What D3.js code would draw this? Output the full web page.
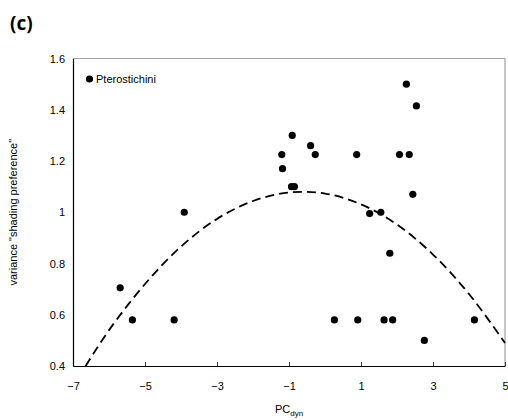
<!DOCTYPE html>
<html>
<head>
<meta charset="utf-8">
<script src="https://cdn.jsdelivr.net/npm/d3@7"></script>
<style>
  html, body { margin: 0; padding: 0; background: #fff; }
  svg { display: block; }
</style>
</head>
<body>
<script>
// Data
const pcDyn = [2.26, 2.54, -0.91, -0.40, -1.20, -0.27, 0.88, 2.07, 2.34, -1.18, -0.93, -0.85, 2.44,
               -3.91, -5.69, -5.35, -4.19, 1.24, 1.55, 1.80, 0.26, 0.91, 1.64, 1.88, 4.15, 2.76];
const variance = [1.50, 1.415, 1.30, 1.26, 1.225, 1.225, 1.225, 1.225, 1.225, 1.17, 1.10, 1.10, 1.07,
                  1.00, 0.705, 0.58, 0.58, 0.995, 1.00, 0.84, 0.58, 0.58, 0.58, 0.58, 0.58, 0.50];
// Fitted curve (dashed)
const curveX = [-6.65, -6, -5, -4, -3, -2, -1, 0, 1, 2, 3, 4, 5];
const curveY = [0.40, 0.54, 0.72, 0.866, 0.974, 1.044, 1.077, 1.073, 1.031, 0.952, 0.835, 0.681, 0.49];
const xTicks = [-7, -5, -3, -1, 1, 3, 5];
const yTicks = [0.4, 0.6, 0.8, 1.0, 1.2, 1.4, 1.6];
const legendLabel = "Pterostichini";
const panelLabel = "(c)";

const W = 508, H = 420;
const m = { left: 73, top: 58.5, right: 3, bottom: 54 };
const svg = d3.select("body").append("svg").attr("width", W).attr("height", H);

const x = d3.scaleLinear().domain([-7, 5]).range([m.left, W - m.right]);
const y = d3.scaleLinear().domain([0.4, 1.6]).range([H - m.bottom, m.top]);

// frame: top & right gray
svg.append("path")
  .attr("d", `M${x(-7)},${y(1.6)}H${x(5)}V${y(0.4)}`)
  .attr("fill", "none").attr("stroke", "#a0a0a0").attr("stroke-width", 1.2);

const font = "'Liberation Sans', Arial, sans-serif";

const gx = svg.append("g").attr("transform", `translate(0,${y(0.4)})`)
  .call(d3.axisBottom(x).tickValues(xTicks).tickSizeInner(-4).tickSizeOuter(0).tickPadding(16)
        .tickFormat(d3.format("d")));
const gy = svg.append("g").attr("transform", `translate(${x(-7)},0)`)
  .call(d3.axisLeft(y).tickValues(yTicks).tickSizeInner(0).tickSizeOuter(0).tickPadding(8)
        .tickFormat(d => d === 1 ? "1" : d3.format(".1f")(d)));
[gx, gy].forEach(g => {
  g.select(".domain").attr("stroke", "#000").attr("stroke-width", 1.2);
  g.selectAll(".tick line").attr("stroke", "#333");
  g.selectAll("text").attr("font-family", font).attr("font-size", 11).attr("fill", "#000");
});

// dashed curve
const curvePts = curveX.map((v, i) => [v, curveY[i]]);
svg.append("path")
  .datum(curvePts)
  .attr("d", d3.line().x(d => x(d[0])).y(d => y(d[1])).curve(d3.curveCatmullRom))
  .attr("fill", "none").attr("stroke", "#000").attr("stroke-width", 1.8)
  .attr("stroke-dasharray", "9,5");

// points
svg.append("g").selectAll("circle")
  .data(pcDyn.map((v, i) => [v, variance[i]]))
  .join("circle")
  .attr("cx", d => x(d[0])).attr("cy", d => y(d[1])).attr("r", 3.6).attr("fill", "#000");

// legend
svg.append("circle").attr("cx", 89.5).attr("cy", 79).attr("r", 3.6).attr("fill", "#000");
svg.append("text").attr("x", 96).attr("y", 83).text(legendLabel)
  .attr("font-family", font).attr("font-size", 11);

// y label
svg.append("text")
  .attr("transform", `translate(17,${(y(0.4) + y(1.6)) / 2}) rotate(-90)`)
  .attr("text-anchor", "middle")
  .attr("font-family", font).attr("font-size", 11)
  .text('variance "shading preference"');

// x label
const xl = svg.append("text")
  .attr("x", (x(-7) + x(5)) / 2).attr("y", 413)
  .attr("text-anchor", "middle")
  .attr("font-family", font).attr("font-size", 11);
xl.append("tspan").text("PC");
xl.append("tspan").attr("font-size", 8).attr("dy", 3).text("dyn");

// panel label
svg.append("text").attr("x", 10).attr("y", 30)
  .attr("font-family", "'Open Sans', 'DejaVu Sans', sans-serif")
  .attr("font-weight", "bold").attr("font-size", 19)
  .text(panelLabel);
</script>
</body>
</html>
